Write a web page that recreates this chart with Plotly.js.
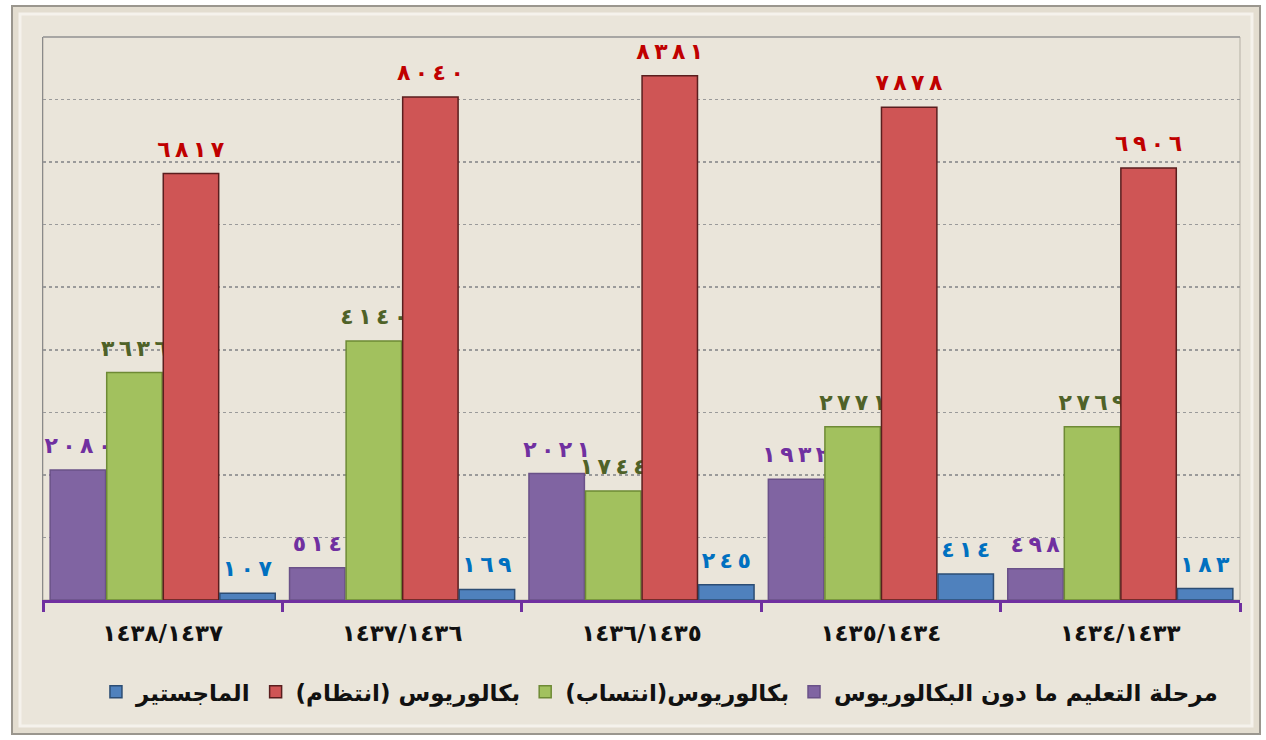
<!DOCTYPE html>
<html>
<head>
<meta charset="utf-8">
<script src="https://cdn.plot.ly/plotly-3.0.1.min.js"></script>
<style>
html,body{margin:0;padding:0;background:#ffffff;}
#chart{width:1266px;height:740px;}
</style>
</head>
<body>
<div id="chart"></div>
<script>
var categories = ["١٤٣٨/١٤٣٧", "١٤٣٧/١٤٣٦", "١٤٣٦/١٤٣٥", "١٤٣٥/١٤٣٤", "١٤٣٤/١٤٣٣"];
var seriesNames = ["مرحلة التعليم ما دون البكالوريوس", "بكالوريوس(انتساب)", "بكالوريوس (انتظام)", "الماجستير"];
var preBachelor = [2080, 514, 2021, 1932, 498];
var bachelorAffiliation = [3636, 4140, 1744, 2771, 2769];
var bachelorRegular = [6817, 8040, 8381, 7878, 6906];
var master = [107, 169, 245, 414, 183];

var barColors = ["#8064A2", "#A2C15E", "#CF5555", "#4F81BD"];
var lineColors = ["#6A5188", "#6E8A35", "#5A1E1E", "#2C4D74"];
var textColors = ["#7030A0", "#4F6228", "#C00000", "#0070C0"];

function toArabic(n) {
  var d = "٠١٢٣٤٥٦٧٨٩";
  return "\u200E" + String(n).split("").map(function (c) { return d[+c]; }).join("\u200E\u2009\u200E") + "\u200E";
}

var allSeries = [preBachelor, bachelorAffiliation, bachelorRegular, master];
var traces = allSeries.map(function (vals, i) {
  return {
    type: "bar",
    name: seriesNames[i] + "\u200F",
    x: categories,
    y: vals,
    text: vals.map(toArabic),
    textposition: "outside",
    textangle: 0,
    constraintext: "none",
    cliponaxis: false,
    textfont: {family: "DejaVu Sans", size: 22, color: textColors[i], weight: "bold"},
    marker: {color: barColors[i], line: {color: lineColors[i], width: 1.5}},
    hoverinfo: "y"
  };
});

var layout = {
  width: 1266,
  height: 740,
  paper_bgcolor: "#EAE5DA",
  plot_bgcolor: "#E6E0D3",
  margin: {l: 43, r: 26, t: 37, b: 140},
  barmode: "group",
  bargap: 0.055,
  bargroupgap: 0.02,
  showlegend: true,
  legend: {
    orientation: "h",
    traceorder: "reversed",
    x: 0.515, xanchor: "center",
    yref: "container", y: 0.065, yanchor: "middle",
    font: {family: "DejaVu Sans", size: 23, color: "#111", weight: "bold"},
    bgcolor: "rgba(0,0,0,0)",
    itemwidth: 30
  },
  xaxis: {
    type: "category",
    showline: true,
    linecolor: "#7030A0",
    linewidth: 3,
    ticks: "outside",
    tickson: "boundaries",
    ticklen: 9,
    tickwidth: 3,
    tickcolor: "#7030A0",
    tickfont: {family: "DejaVu Sans", size: 23, color: "#111", weight: "bold"},
    ticklabelstandoff: 10,
    showgrid: false,
    zeroline: false
  },
  yaxis: {
    range: [0, 9000],
    dtick: 1000,
    showticklabels: false,
    showgrid: true,
    gridcolor: "#9a9a9a",
    griddash: "dot",
    gridwidth: 1.5,
    zeroline: false,
    showline: true,
    linecolor: "#8a8a8a",
    linewidth: 1,
    ticks: ""
  },
  shapes: [
    {type: "rect", xref: "paper", yref: "paper", x0: 0, x1: 1, y0: 1, y1: 1,
     line: {color: "#9a9a9a", width: 1.5, dash: "dot"}},
    {type: "rect", xref: "paper", yref: "paper", x0: 0, x1: 1, y0: 0, y1: 1,
     line: {color: "#b5b0a5", width: 1}, layer: "below"}
  ]
};

Plotly.newPlot("chart", traces, layout, {displayModeBar: false, staticPlot: true}).then(function () {
  var svg = document.querySelector("#chart .main-svg");
  var ns = "http://www.w3.org/2000/svg";
  function rect(x, y, w, h, fill, stroke, sw) {
    var r = document.createElementNS(ns, "rect");
    r.setAttribute("x", x); r.setAttribute("y", y);
    r.setAttribute("width", w); r.setAttribute("height", h);
    r.setAttribute("fill", fill);
    if (stroke) { r.setAttribute("stroke", stroke); r.setAttribute("stroke-width", sw); }
    return r;
  }
  var bg = svg.querySelector("rect.bg");
  var frame = document.createElementNS(ns, "g");
  frame.appendChild(rect(0, 0, 1266, 740, "#ffffff"));
  frame.appendChild(rect(12, 6, 1248, 728, "#E3DDD0", "#9a968e", 2));
  frame.appendChild(rect(20, 14, 1232, 712, "#EAE5DA", "#f5f2ec", 3));
  svg.insertBefore(frame, svg.firstChild.nextSibling);
  if (bg) bg.setAttribute("style", "fill:none");
  document.querySelectorAll("#chart text.bartext").forEach(function (t) {
    var tr = t.getAttribute("transform") || "";
    t.setAttribute("transform", "translate(0,-9) " + tr);
  });
});
</script>
</body>
</html>
